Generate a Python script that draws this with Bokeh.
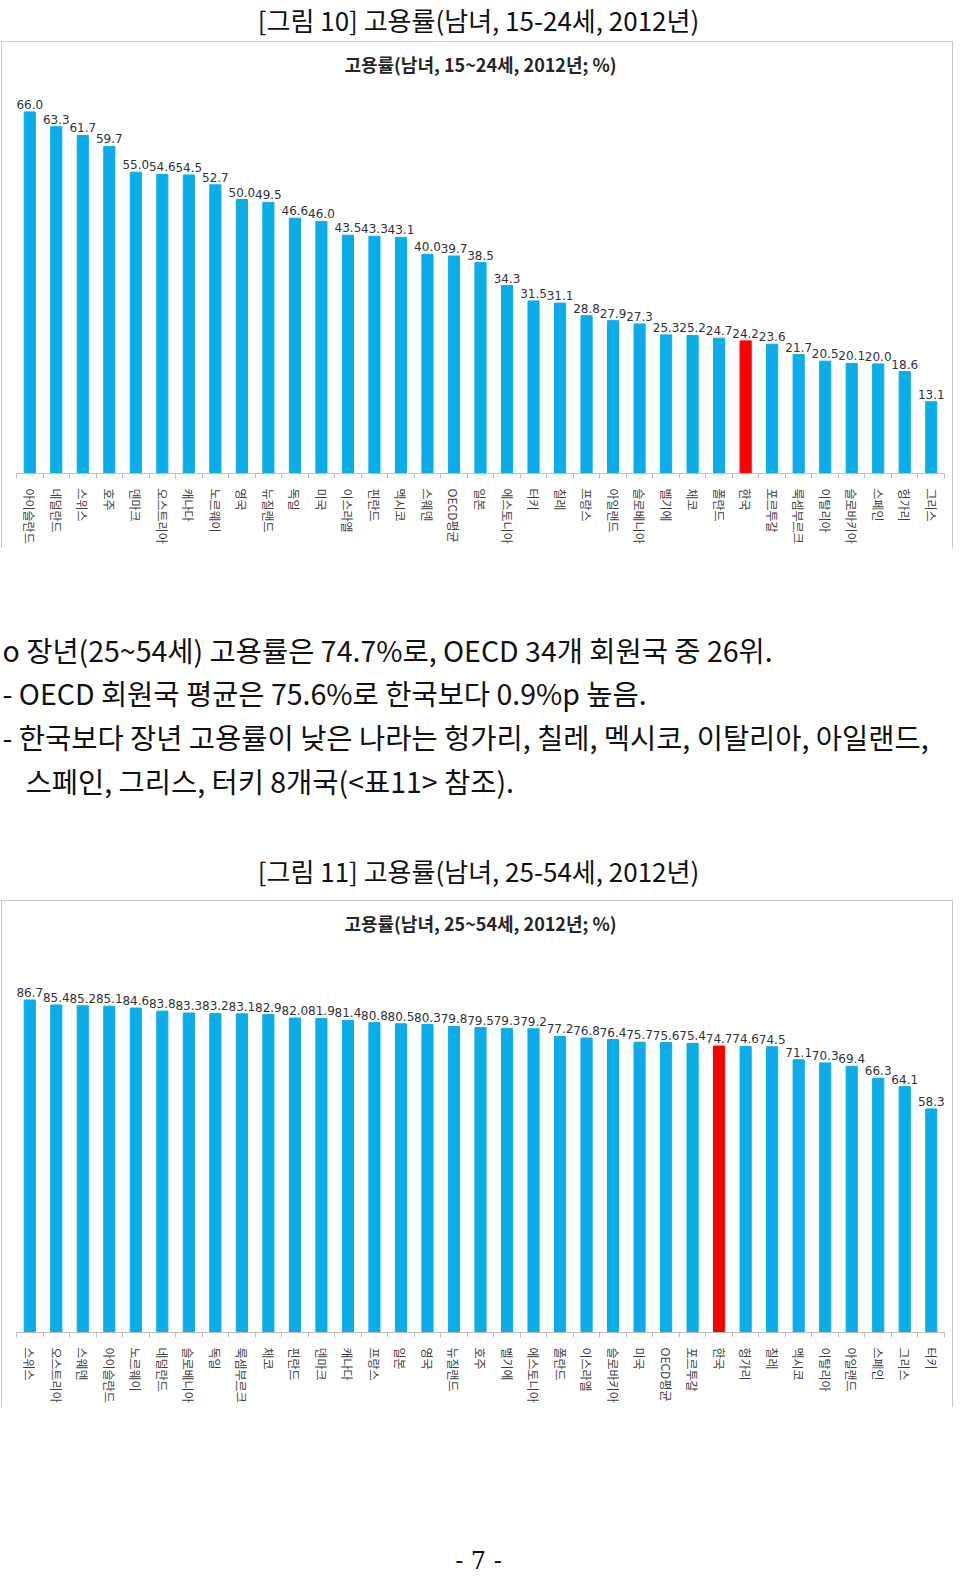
from bokeh.plotting import figure
from bokeh.models import ColumnDataSource, Range1d, FixedTicker
from bokeh.layouts import column
from bokeh.embed import file_html
from bokeh.resources import INLINE
from bokeh.core.properties import value

# ---------------- data ----------------
countries_1524 = ["아이슬란드", "네덜란드", "스위스", "호주", "덴마크", "오스트리아", "캐나다",
                  "노르웨이", "영국", "뉴질랜드", "독일", "미국", "이스라엘", "핀란드", "멕시코",
                  "스웨덴", "OECD평균", "일본", "에스토니아", "터키", "칠레", "프랑스", "아일랜드",
                  "슬로베니아", "벨기에", "체코", "폴란드", "한국", "포르투갈", "룩셈부르크",
                  "이탈리아", "슬로바키아", "스페인", "헝가리", "그리스"]
rates_1524 = [66.0, 63.3, 61.7, 59.7, 55.0, 54.6, 54.5, 52.7, 50.0, 49.5, 46.6, 46.0, 43.5,
              43.3, 43.1, 40.0, 39.7, 38.5, 34.3, 31.5, 31.1, 28.8, 27.9, 27.3, 25.3, 25.2,
              24.7, 24.2, 23.6, 21.7, 20.5, 20.1, 20.0, 18.6, 13.1]

countries_2554 = ["스위스", "오스트리아", "스웨덴", "아이슬란드", "노르웨이", "네덜란드",
                  "슬로베니아", "독일", "룩셈부르크", "체코", "핀란드", "덴마크", "캐나다",
                  "프랑스", "일본", "영국", "뉴질랜드", "호주", "벨기에", "에스토니아", "폴란드",
                  "이스라엘", "슬로바키아", "미국", "OECD평균", "포르투갈", "한국", "헝가리",
                  "칠레", "멕시코", "이탈리아", "아일랜드", "스페인", "그리스", "터키"]
rates_2554 = [86.7, 85.4, 85.2, 85.1, 84.6, 83.8, 83.3, 83.2, 83.1, 82.9, 82.0, 81.9, 81.4,
              80.8, 80.5, 80.3, 79.8, 79.5, 79.3, 79.2, 77.2, 76.8, 76.4, 75.7, 75.6, 75.4,
              74.7, 74.6, 74.5, 71.1, 70.3, 69.4, 66.3, 64.1, 58.3]

highlight = "한국"

caption_1524 = "[그림 10] 고용률(남녀, 15-24세, 2012년)"
title_1524 = "고용률(남녀, 15~24세, 2012년; %)"
caption_2554 = "[그림 11] 고용률(남녀, 25-54세, 2012년)"
title_2554 = "고용률(남녀, 25~54세, 2012년; %)"
body_lines = [
    "o 장년(25~54세) 고용률은 74.7%로, OECD 34개 회원국 중 26위.",
    "- OECD 회원국 평균은 75.6%로 한국보다 0.9%p 높음.",
    "- 한국보다 장년 고용률이 낮은 나라는 헝가리, 칠레, 멕시코, 이탈리아, 아일랜드,",
    "스페인, 그리스, 터키 8개국(<표11> 참조).",
]
page_number = "- 7 -"

# ---------------- style / layout ----------------
W = 954
CW = 952
CH = 507
FRAME_TOP = 4        # px above the frame
FRAME_BOTTOM = 76    # px below the frame (axis labels)
PLOT_H = 383.5       # px used by 0..ymax
TITLE_C = 21         # px from canvas top to chart title centre
KR = "Noto Sans CJK KR"
BLUE = "#0BADE9"
RED = "#FF0000"
GRID = "#C8C8C8"


def no_align(p):
    if "frame_align" in p.properties():
        p.frame_align = False


def text_fig(height):
    p = figure(width=W, height=height, x_range=Range1d(0, W), y_range=Range1d(height, 0),
               output_backend="svg", toolbar_location=None, min_border=0,
               x_axis_location=None, y_axis_location=None)
    p.grid.visible = False
    p.outline_line_color = None
    no_align(p)
    return p


def bar_chart(cats, vals, title, ymax):
    n = len(cats)
    xs = list(range(1, n + 1))
    colors = [RED if c == highlight else BLUE for c in cats]
    src = ColumnDataSource(dict(x=xs, top=vals, color=colors,
                                label=[f"{v:.1f}" for v in vals]))
    frame_h = CH - FRAME_TOP - FRAME_BOTTOM
    y_end = ymax * frame_h / PLOT_H
    p = figure(width=CW, height=CH, x_range=Range1d(0.5, n + 0.5), y_range=Range1d(0, y_end),
               output_backend="svg", toolbar_location=None,
               min_border_left=14, min_border_right=10, min_border_top=FRAME_TOP,
               min_border_bottom=FRAME_BOTTOM, y_axis_location=None)
    no_align(p)
    p.vbar(x="x", top="top", width=0.42, color="color", source=src)
    p.text(x="x", y="top", text="label", y_offset=-3, text_align="center",
           text_baseline="bottom", text_font=value("DejaVu Sans"), text_font_size="12px",
           text_color="#333333", source=src)
    title_y = y_end * (frame_h + FRAME_TOP - TITLE_C) / frame_h
    p.text(x=[(n + 1) / 2], y=[title_y], text=[title], text_align="center",
           text_baseline="middle", text_font=value(KR), text_font_size="18px",
           text_font_style="bold", text_color="#262626")
    p.grid.visible = False
    p.outline_line_color = None
    ax = p.xaxis[0]
    ax.ticker = FixedTicker(ticks=xs, minor_ticks=[i + 0.5 for i in range(n + 1)])
    ax.major_label_overrides = {i + 1: c for i, c in enumerate(cats)}
    ax.major_label_orientation = "vertical"
    ax.major_label_text_font = KR
    ax.major_label_text_font_size = "12px"
    ax.major_label_text_color = "#404040"
    ax.major_label_standoff = 10
    ax.major_tick_out = 0
    ax.major_tick_in = 0
    ax.major_tick_line_color = None
    ax.minor_tick_out = 5
    ax.minor_tick_in = 0
    ax.minor_tick_line_color = "#BFBFBF"
    ax.axis_line_color = "#BFBFBF"
    p.styles = {"border-top": f"1px solid {GRID}", "border-left": f"1px solid {GRID}",
                "border-right": f"1px solid {GRID}", "margin-left": "1px"}
    return p


cap1 = text_fig(41)
cap1.text(x=[478], y=[19], text=[caption_1524], text_align="center", text_baseline="middle",
          text_font=value(KR), text_font_size="26px", text_color="#111111")

chart1 = bar_chart(countries_1524, rates_1524, title_1524, 70)

mid = text_fig(352)
mid.text(x=[2, 2, 2, 25], y=[101, 144, 188, 232], text=body_lines, text_align="left",
         text_baseline="middle", text_font=value(KR), text_font_size="28.5px",
         text_color="#111111")
mid.text(x=[478], y=[322], text=[caption_2554], text_align="center", text_baseline="middle",
         text_font=value(KR), text_font_size="26px", text_color="#111111")

chart2 = bar_chart(countries_2554, rates_2554, title_2554, 100)

foot = text_fig(168)
foot.text(x=[478], y=[153], text=[page_number], text_align="center", text_baseline="middle",
          text_font=value("DejaVu Serif"), text_font_size="24px", text_color="#111111")

page = column(cap1, chart1, mid, chart2, foot, spacing=0)
open("out.html", "w").write(file_html(page, INLINE))
